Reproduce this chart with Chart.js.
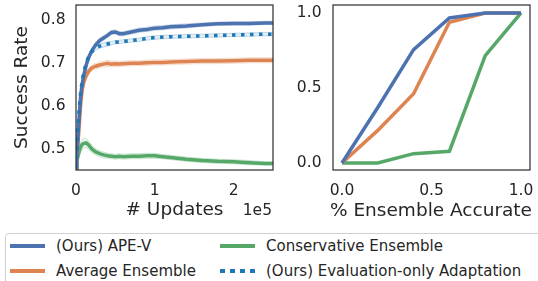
<!DOCTYPE html>
<html>
<head>
<meta charset="utf-8">
<script src="https://cdn.jsdelivr.net/npm/chart.js@4.4.1/dist/chart.umd.min.js"></script>
<style>
  html, body { margin: 0; padding: 0; background: #fff; }
  body { width: 538px; height: 281px; position: relative; overflow: hidden;
         font-family: "DejaVu Sans", sans-serif; color: #262626; }
  #left { position: absolute; left: 0; top: -17px; }
  #right { position: absolute; left: 280px; top: -17px; }
  .exp { position: absolute; right: 266px; top: 202px; font-size: 15.5px; line-height: 16px; }
  .xt { position: absolute; left: 331px; width: 200px; top: 199px; font-size: 18.5px; line-height: 22px;
        text-align: center; white-space: nowrap; }
  .xt span { display: inline-block; margin: 0 -60px; }
  .legend { position: absolute; left: 5px; top: 233px; width: 545px; height: 60px;
            border: 1px solid #d0d0d0; border-radius: 4px; box-sizing: border-box; }
  .item { position: absolute; height: 18px; line-height: 18px; font-size: 15px;
          padding-left: 46px; white-space: nowrap; }
  .item i { position: absolute; left: 0; top: 7px; width: 35px; height: 3.5px; }
</style>
</head>
<body>
<canvas id="left" width="280" height="242"></canvas>
<canvas id="right" width="290" height="242"></canvas>
<div class="exp">1e5</div>
<div class="xt"><span>% Ensemble Accurate</span></div>
<div class="legend">
  <div class="item" style="left:4px;top:3px"><i style="background:#4c72b0"></i>(Ours) APE-V</div>
  <div class="item" style="left:4px;top:28px"><i style="background:#dd8452"></i>Average Ensemble</div>
  <div class="item" style="left:214px;top:3px"><i style="background:#55a868"></i>Conservative Ensemble</div>
  <div class="item" style="left:214px;top:28px"><i style="background:repeating-linear-gradient(90deg,#1f77b4 0 5px,transparent 5px 10px)"></i>(Ours) Evaluation-only Adaptation</div>
</div>
<script>
// left panel: success rate vs updates (x in units of 1e5)
const updates = [0, 0.01, 0.02, 0.04, 0.06, 0.08, 0.1, 0.13, 0.16, 0.2, 0.25, 0.3, 0.35, 0.4, 0.45, 0.5,
                 0.55, 0.6, 0.7, 0.8, 0.9, 1.0, 1.1, 1.2, 1.4, 1.6, 1.8, 2.0, 2.2, 2.4, 2.5];
const apeV = [0.455, 0.48, 0.51, 0.575, 0.625, 0.652, 0.672, 0.695, 0.712, 0.728, 0.742, 0.752, 0.758, 0.764, 0.771, 0.772,
              0.768, 0.768, 0.772, 0.776, 0.778, 0.781, 0.782, 0.784, 0.786, 0.789, 0.791, 0.792, 0.792, 0.793, 0.793];
const evalOnly = [0.455, 0.49, 0.53, 0.59, 0.632, 0.66, 0.678, 0.700, 0.714, 0.726, 0.734, 0.739, 0.742, 0.744, 0.746, 0.748,
                  0.749, 0.750, 0.752, 0.754, 0.757, 0.759, 0.760, 0.761, 0.762, 0.763, 0.764, 0.765, 0.766, 0.767, 0.767];
const avgEns = [0.455, 0.47, 0.50, 0.55, 0.605, 0.638, 0.655, 0.670, 0.680, 0.688, 0.692, 0.695, 0.697, 0.699, 0.697, 0.698,
                0.697, 0.698, 0.699, 0.699, 0.700, 0.701, 0.701, 0.702, 0.703, 0.704, 0.704, 0.705, 0.706, 0.706, 0.706];
const consEns = [0.455, 0.466, 0.478, 0.493, 0.504, 0.510, 0.512, 0.513, 0.508, 0.499, 0.492, 0.488, 0.485, 0.483, 0.482, 0.481,
                 0.482, 0.481, 0.482, 0.482, 0.483, 0.483, 0.481, 0.479, 0.475, 0.472, 0.470, 0.469, 0.467, 0.465, 0.465];
// half-width of the faint seed band around each curve
const apeVSpread = [0, 0.01, 0.012, 0.012, 0.01, 0.01, 0.008, 0.008, 0.007, 0.006, 0.006, 0.006, 0.005, 0.005, 0.005, 0.005,
                    0.005, 0.005, 0.005, 0.005, 0.005, 0.005, 0.005, 0.005, 0.005, 0.004, 0.004, 0.004, 0.004, 0.004, 0.004];
const evalSpread = [0, 0.01, 0.01, 0.01, 0.008, 0.008, 0.007, 0.007, 0.006, 0.006, 0.005, 0.005, 0.005, 0.005, 0.004, 0.004,
                    0.004, 0.004, 0.004, 0.004, 0.004, 0.004, 0.004, 0.004, 0.004, 0.004, 0.004, 0.004, 0.004, 0.004, 0.004];
const avgSpread = [0, 0.01, 0.012, 0.012, 0.01, 0.009, 0.008, 0.008, 0.007, 0.007, 0.007, 0.007, 0.007, 0.007, 0.007, 0.007,
                   0.006, 0.006, 0.006, 0.006, 0.006, 0.006, 0.006, 0.006, 0.006, 0.006, 0.006, 0.006, 0.006, 0.006, 0.006];
const consSpread = [0, 0.008, 0.01, 0.012, 0.012, 0.012, 0.012, 0.011, 0.01, 0.009, 0.008, 0.007, 0.007, 0.006, 0.006, 0.006,
                    0.006, 0.006, 0.006, 0.006, 0.006, 0.006, 0.005, 0.005, 0.005, 0.005, 0.005, 0.005, 0.005, 0.004, 0.004];
const updateTicks = [0, 1, 2];
const rateTicks = [0.5, 0.6, 0.7, 0.8];

// right panel
const accuracy = [0, 0.2, 0.4, 0.6, 0.8, 1.0];
const apeVCurve = [0, 0.37, 0.755, 0.967, 1.0, 1.0];
const avgCurve = [0, 0.217, 0.461, 0.938, 1.0, 1.0];
const consCurve = [0, 0, 0.062, 0.078, 0.716, 1.0];
const accTicks = [0, 0.5, 1.0];

const ink = '#262626';
const tickFont = { family: 'DejaVu Sans', size: 15.5 };
const titleFont = { family: 'DejaVu Sans', size: 18.5 };

const frame = {
    id: 'frame',
    afterDraw(chart) {
        const { ctx, chartArea: a } = chart;
        ctx.save();
        ctx.strokeStyle = '#333';
        ctx.lineWidth = 1.25;
        ctx.strokeRect(a.left, a.top, a.right - a.left, a.bottom - a.top);
        ctx.restore();
    }
};

function pts(xs, ys) {
    return xs.map((x, i) => ({ x: x, y: ys[i] }));
}

function line(ys, xs, color, extra) {
    return Object.assign({
        data: pts(xs, ys),
        borderColor: color,
        borderWidth: 3.5,
        pointRadius: 0,
        tension: 0,
        fill: false
    }, extra || {});
}

function band(ys, spread, rgb) {
    const lo = ys.map((v, i) => v - spread[i]);
    const hi = ys.map((v, i) => v + spread[i]);
    return [
        { data: pts(updates, lo), borderColor: 'rgba(' + rgb + ',0.25)', borderWidth: 1, pointRadius: 0, fill: false },
        { data: pts(updates, hi), borderColor: 'rgba(' + rgb + ',0.25)', borderWidth: 1, pointRadius: 0,
          fill: '-1', backgroundColor: 'rgba(' + rgb + ',0.12)' }
    ];
}

function axis(min, max, ticks, fmt, title, fit, pad, titlePad) {
    return {
        type: 'linear', min: min, max: max,
        grid: { display: false, drawTicks: false },
        border: { display: false },
        ticks: { color: ink, font: tickFont, padding: pad, callback: fmt },
        afterBuildTicks: s => { s.ticks = ticks.map(v => ({ value: v })); },
        afterFit: fit,
        title: { display: !!title, text: title, color: ink, font: titleFont, padding: titlePad }
    };
}

new Chart(document.getElementById('left'), {
    type: 'line',
    data: {
        datasets: [
            line(evalOnly, updates, '#1f77b4', { borderDash: [3.5, 5.5], borderCapStyle: 'butt' }),
            line(apeV, updates, '#4c72b0'),
            line(avgEns, updates, '#dd8452'),
            line(consEns, updates, '#55a868'),
            ...band(evalOnly, evalSpread, '31,119,180'),
            ...band(apeV, apeVSpread, '76,114,176'),
            ...band(avgEns, avgSpread, '221,132,82'),
            ...band(consEns, consSpread, '85,168,104')
        ]
    },
    options: {
        responsive: false,
        devicePixelRatio: 1,
        animation: false,
        layout: { padding: { top: 22, right: 7, left: 0, bottom: 0 } },
        plugins: { legend: { display: false }, tooltip: { enabled: false } },
        scales: {
            x: axis(0, 2.5, updateTicks, v => String(v), '# Updates',
                    s => { s.height = 55; }, 12, { top: 0, bottom: 4 }),
            y: axis(0.4498, 0.835, rateTicks, v => v.toFixed(1), 'Success Rate',
                    s => { s.width = 76; }, 10.5, { top: 11, bottom: 0 })
        }
    },
    plugins: [frame]
});

new Chart(document.getElementById('right'), {
    type: 'line',
    data: {
        datasets: [
            line(apeVCurve, accuracy, '#4c72b0'),
            line(avgCurve, accuracy, '#dd8452'),
            line(consCurve, accuracy, '#55a868')
        ]
    },
    options: {
        responsive: false,
        devicePixelRatio: 1,
        animation: false,
        layout: { padding: { top: 22, right: 40, left: 0, bottom: 0 } },
        plugins: { legend: { display: false }, tooltip: { enabled: false } },
        scales: {
            x: axis(-0.05, 1.05, accTicks, v => v.toFixed(1), '',
                    s => { s.height = 55; }, 12, 0),
            y: axis(-0.047, 1.053, accTicks, v => v.toFixed(1), '',
                    s => { s.width = 53; }, 11.5, 0)
        }
    },
    plugins: [frame]
});
</script>
</body>
</html>
